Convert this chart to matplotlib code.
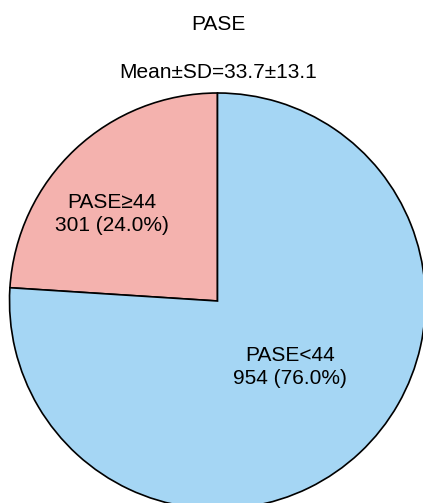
import matplotlib.pyplot as plt

labels = ['PASE<44', 'PASE\u226544']
counts = [954, 301]
colors = ['#a5d6f4', '#f4b2ae']
title = 'PASE'
subtitle = 'Mean\u00b1SD=33.7\u00b113.1'

plt.rcParams['font.family'] = ['Liberation Sans', 'DejaVu Sans']

fig = plt.figure(figsize=(4.23, 5.03), dpi=100)
ax = fig.add_axes([0, 0, 1, 1])

total = sum(counts)
# pink slice first, counterclockwise from top
wedges, _ = ax.pie(counts[::-1], colors=colors[::-1], startangle=90,
                   counterclock=True, center=(217.5, 202), radius=208,
                   wedgeprops=dict(edgecolor='black', linewidth=1.2),
                   frame=True)
ax.set_xlim(0, 423)
ax.set_ylim(0, 503)
ax.set_aspect('equal')
ax.axis('off')

pos = {'PASE\u226544': (112, 503 - 214), 'PASE<44': (290, 503 - 367)}
for lab, n in zip(labels, counts):
    x, y = pos[lab]
    ax.text(x, y, '%s\n%d (%.1f%%)' % (lab, n, 100 * n / total),
            ha='center', va='center', fontsize=15, linespacing=1.32)

ax.text(218, 503 - 24, title, ha='center', va='center', fontsize=15)
ax.text(218, 503 - 72, subtitle, ha='center', va='center', fontsize=15)

fig.savefig('out.png', dpi=100)
